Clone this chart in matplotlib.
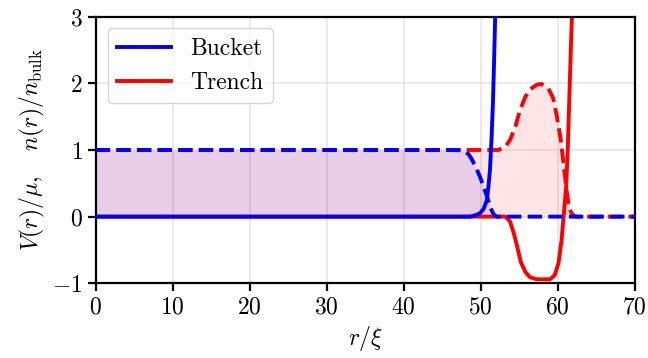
import matplotlib
matplotlib.use("Agg")
import matplotlib.pyplot as plt

plt.rcParams["font.family"] = ["cmr10", "DejaVu Serif"]
plt.rcParams["mathtext.fontset"] = "cm"
plt.rcParams["axes.formatter.use_mathtext"] = True
plt.rcParams["font.size"] = 17

# bucket: potential (solid) and density (dashed)
bucket_r_pot = [0, 48.6, 49.3, 49.9, 50.4, 50.8, 51.0, 51.2, 51.4, 51.6, 51.75, 51.9, 52.0]
bucket_pot = [0, 0, 0.02, 0.05, 0.12, 0.25, 0.45, 0.7, 1.15, 1.75, 2.4, 3.1, 3.4]

bucket_r_den = [0, 46.5, 47.3, 47.9, 48.4, 48.8, 49.2, 49.6, 50.0, 50.4, 50.8,
                51.1, 51.4, 51.7, 52.1, 70]
bucket_den = [1, 1, 0.995, 0.98, 0.94, 0.87, 0.78, 0.68, 0.57, 0.44, 0.31,
              0.2, 0.1, 0.03, 0.0, 0]

# trench
trench_r_pot = [0, 53.2, 53.8, 54.3, 54.8, 55.2, 55.8, 56.4, 57.3, 59.0, 59.6,
                60.1, 60.5, 60.8, 61.1, 61.3, 61.5, 61.7, 61.85, 62.0]
trench_pot = [0, 0, -0.07, -0.25, -0.48, -0.68, -0.83, -0.91, -0.94, -0.94, -0.88,
              -0.7, -0.35, 0.05, 0.45, 1.0, 1.75, 2.5, 3.0, 3.4]

trench_r_den = [0, 52.3, 53.2, 53.8, 54.5, 55.1, 55.8, 56.4, 57.3, 57.9, 58.8,
                59.4, 59.9, 60.4, 60.8, 61.2, 61.5, 61.9, 62.4, 70]
trench_den = [1, 1, 1.05, 1.15, 1.35, 1.6, 1.8, 1.91, 1.98, 1.99, 1.92,
              1.78, 1.5, 1.15, 0.75, 0.35, 0.12, 0.03, 0.0, 0]

fig = plt.figure(figsize=(6.48, 3.58), dpi=100)
ax = fig.add_axes([0.1477, 0.2087, 0.8318, 0.7447])

ax.grid(True, color="#e6e6e6", lw=1.2, zorder=0)
ax.set_axisbelow(True)

ax.fill_between(bucket_r_den, 0, bucket_den, color="blue", alpha=0.1, lw=0, zorder=1)
ax.fill_between(trench_r_den, 0, trench_den, color="red", alpha=0.1, lw=0, zorder=1)

lw = 2.8
ax.plot(trench_r_pot, trench_pot, color="red", lw=lw, label="Trench", zorder=2)
ax.plot(trench_r_den, trench_den, color="red", lw=lw, ls="--", zorder=2)
ax.plot(bucket_r_pot, bucket_pot, color="blue", lw=lw, label="Bucket", zorder=3)
ax.plot(bucket_r_den, bucket_den, color="blue", lw=lw, ls="--", zorder=3)

ax.set_xlim(0, 70)
ax.set_ylim(-1, 3)
ax.set_xticks(range(0, 71, 10))
ax.set_yticks([-1, 0, 1, 2, 3])
for s in ax.spines.values():
    s.set_linewidth(1.6)
ax.tick_params(width=1.6, length=6)

ax.set_xlabel(r"$r/\xi$")
ax.set_ylabel(r"$V(r)/\mu,\quad n(r)/n_\mathrm{bulk}$")

h, l = ax.get_legend_handles_labels()
ax.legend([h[1], h[0]], [l[1], l[0]], loc="upper left", handlelength=2.3)

fig.savefig("out.png", dpi=100)
